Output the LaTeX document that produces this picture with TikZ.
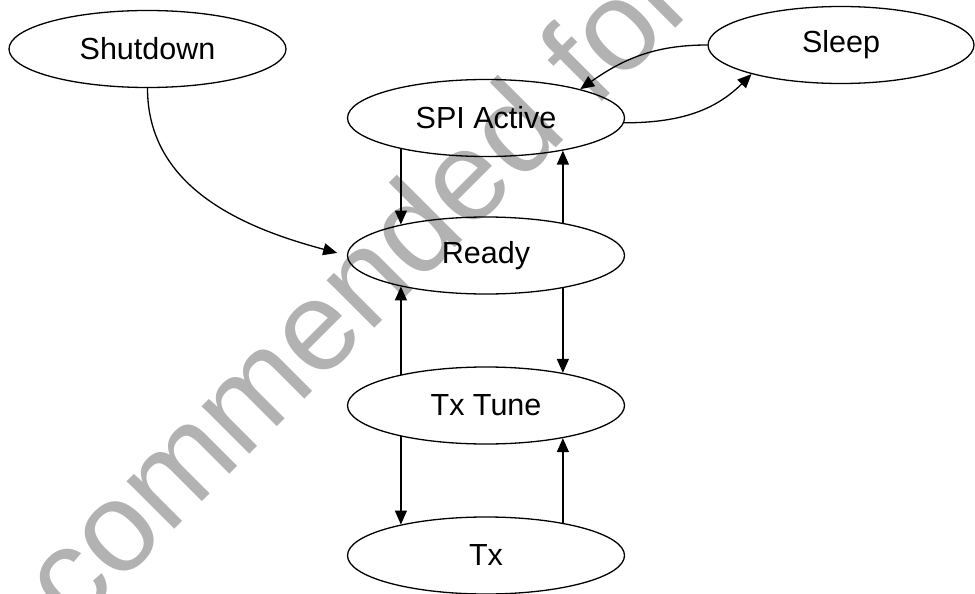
\documentclass[tikz,border=0pt]{standalone}
\usepackage{fontspec}
\setmainfont{Liberation Sans}
\usetikzlibrary{shapes.geometric,arrows.meta}

\def\ewidth{277}
\def\eheight{77}

\tikzset{
 state/.style={ellipse,draw,line width=1.3pt,minimum width=\ewidth pt,
  minimum height=\eheight pt,inner sep=0pt,font=\fontsize{30.5}{36}\selectfont},
 line/.style={line width=1.3pt},
 >={Triangle[length=14pt,width=12pt]}
}

\begin{document}
\begin{tikzpicture}[x=1pt,y=1pt]
 \useasboundingbox (0,0) rectangle (975,-594);
 % Watermark
 \node[text=black!30,rotate=45,font=\fontsize{127.5}{130}\selectfont] (mark) at (314,-325) {recommended for};
 % States
 \node[state] (shutdown) at (147.5,-49) {Shutdown};
 \node[state,minimum width=266pt] (sleep) at (841,-45) {Sleep};
 \node[state] (spi) at (486,-118) {SPI Active};
 \node[state] (ready) at (486,-255.5) {Ready};
 \node[state] (txtune) at (486,-405.5) {Tx Tune};
 \node[state] (tx) at (486,-555.5) {Tx};
 % Curved transitions
 \draw[line,->,shorten >=10pt] (shutdown.south) to[out=-90,in=165] (ready.west);
 \draw[line,->] (spi.-2) to[out=0,in=-135] (sleep.-162);
 \draw[line,->] (sleep.west) to[out=180,in=35] (spi.17);
 % Vertical transitions
 \foreach \a/\b/\l/\r in {spi/ready/->/<-,ready/txtune/<-/->,txtune/tx/->/<-}{
  \draw[line,\l] (\a.200) -- (\b.160);
  \draw[line,\r] (\a.-23.4) -- (\b.23.4);
 }
\end{tikzpicture}
\end{document}
